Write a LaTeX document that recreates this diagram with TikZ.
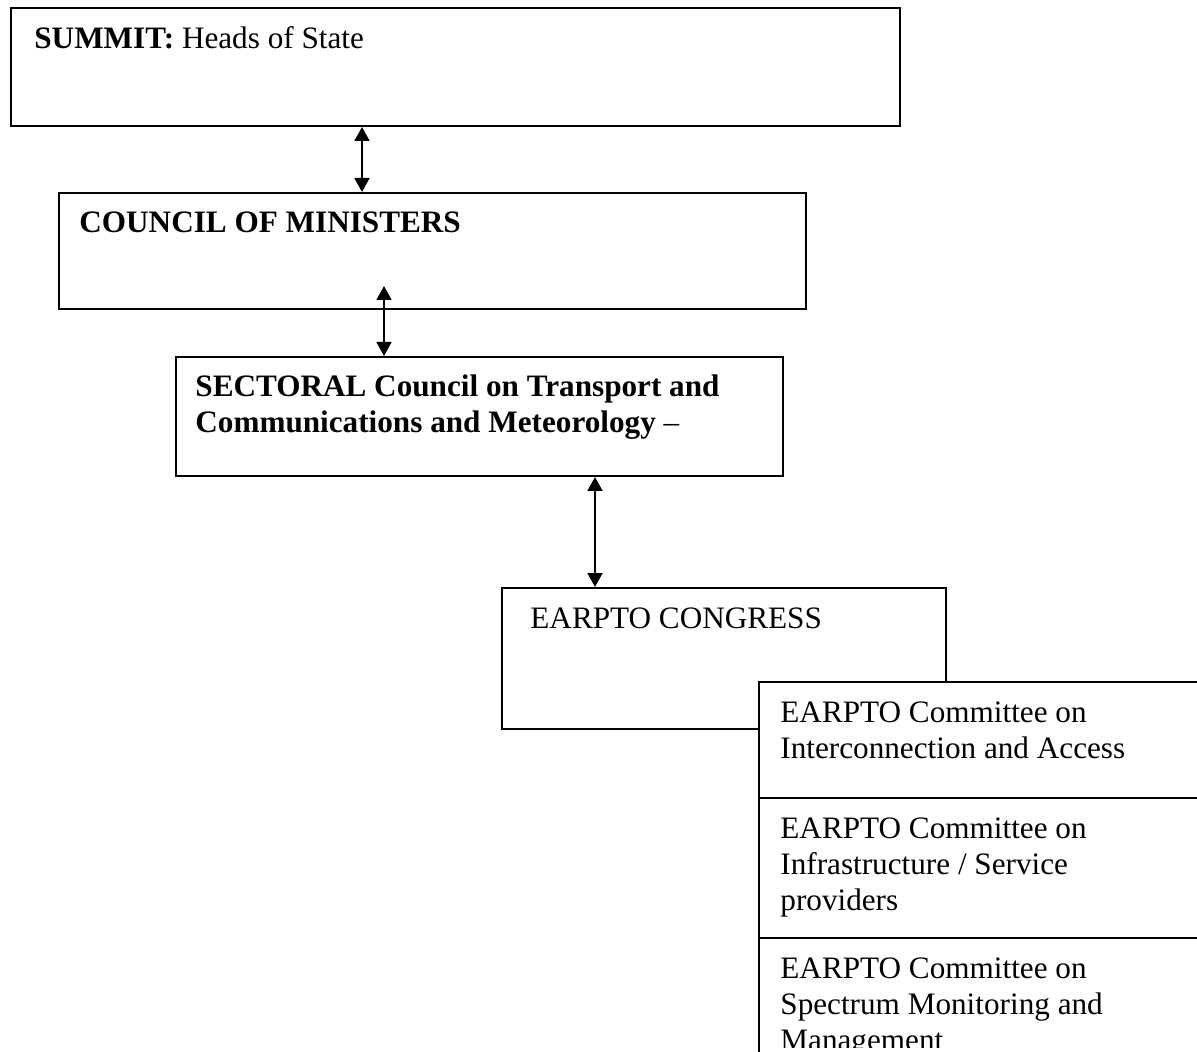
\documentclass[tikz,border=0pt]{standalone}
\usepackage{fontspec}
\setmainfont{Liberation Serif}
\usetikzlibrary{arrows.meta}
\begin{document}
\begin{tikzpicture}[x=0.5pt,y=-0.5pt,
  box/.style={draw=black,line width=1pt,fill=white,rectangle,inner sep=0pt,anchor=north west},
  lbl/.style={anchor=base west,inner sep=0pt,align=left,font=\fontsize{15.6}{18}\selectfont},
  link/.style={line width=0.9pt,{Triangle[length=7pt,width=7.5pt]}-{Triangle[length=7pt,width=7.5pt]}}]
\useasboundingbox (0,0) rectangle (1197,1052);
\clip (0,0) rectangle (1197,1052);
\fill[white] (0,0) rectangle (1197,1052);
% boxes
\node[box,minimum width=444.5pt,minimum height=59pt] (summit) at (10,7) {};
\node[box,minimum width=373.5pt,minimum height=58pt] (council) at (58,192) {};
\node[box,minimum width=303.5pt,minimum height=59.5pt] (sectoral) at (175,356) {};
\node[box,minimum width=222pt,minimum height=70.5pt] (congress) at (501,587) {};
\node[box,minimum width=250pt,minimum height=58pt] (comm1) at (758,681) {};
\node[box,minimum width=250pt,minimum height=70pt] (comm2) at (758,797) {};
\node[box,minimum width=250pt,minimum height=100pt] (comm3) at (758,937) {};
% labels (base anchor = baseline of the last line)
\node[lbl] (tsummit) at (34,49) {\textbf{SUMMIT:} Heads of State};
\node[lbl] (tcouncil) at (79,233) {\textbf{COUNCIL OF MINISTERS}};
\node[lbl] (tsectoral) at (195,433) {\textbf{SECTORAL Council on Transport and}\\\textbf{Communications and Meteorology} --};
\node[lbl] (tcongress) at (530,628) {EARPTO CONGRESS};
\node[lbl] (tcomm1) at (780,758) {EARPTO Committee on\\Interconnection and Access};
\node[lbl] (tcomm2) at (780,910) {EARPTO Committee on\\Infrastructure / Service\\providers};
\begin{scope}
\clip (758,937) rectangle (1197,1047);
\node[lbl] (tcomm3) at (780,1050) {EARPTO Committee on\\Spectrum Monitoring and\\Management};
\end{scope}
% connectors
\coordinate (x1) at (362,0);
\coordinate (c2) at (384,286);
\coordinate (x3) at (595,0);
\draw[link] (summit.south -| x1) -- (council.north -| x1);
\draw[link] (c2) -- (sectoral.north -| c2);
\draw[link] (sectoral.south -| x3) -- (congress.north -| x3);
\end{tikzpicture}
\end{document}
